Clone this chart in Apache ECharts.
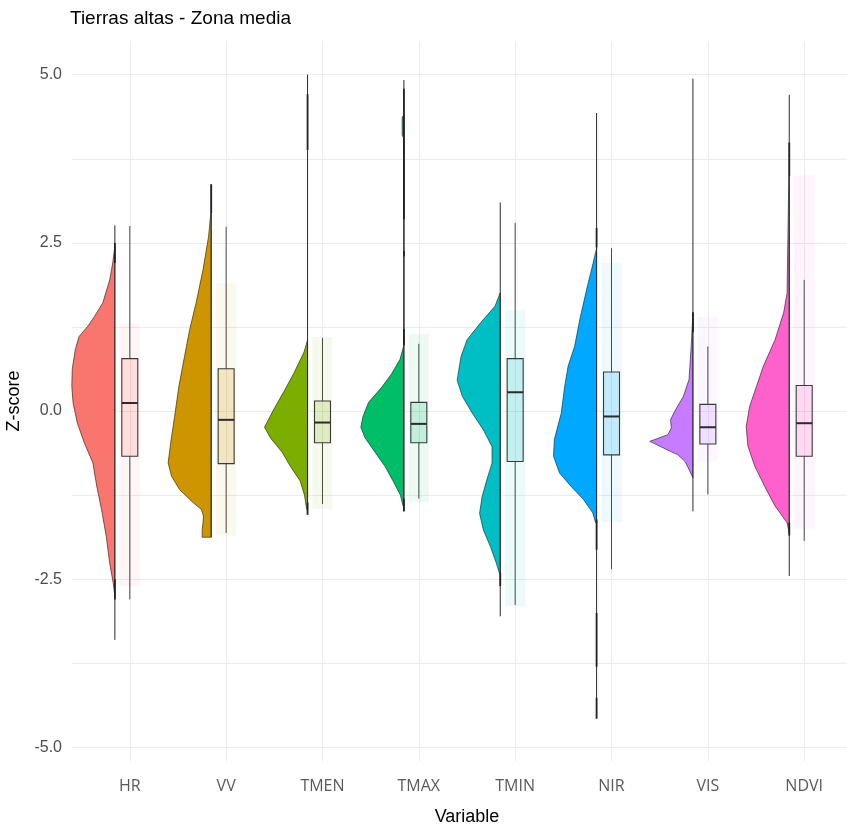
<!DOCTYPE html>
<html>
<head>
<meta charset="utf-8">
<title>Tierras altas - Zona media</title>
<script src="https://cdn.jsdelivr.net/npm/echarts@6.0.0/dist/echarts.min.js"></script>
<style>
  html, body { margin: 0; padding: 0; background: #fff; }
  #chart { width: 847px; height: 829px; }
</style>
</head>
<body>
<div id="chart"></div>
<script>
// categorías del eje x
var categories = ['HR', 'VV', 'TMEN', 'TMAX', 'TMIN', 'NIR', 'VIS', 'NDVI'];

// estadísticos del boxplot (z-score)
var boxLow    = [-2.80, -1.81, -1.38, -1.30, -2.88, -2.35, -1.24, -1.93];
var boxQ1     = [-0.67, -0.78, -0.47, -0.47, -0.75, -0.65, -0.49, -0.67];
var boxMedian = [ 0.12, -0.13, -0.17, -0.19,  0.28, -0.08, -0.24, -0.18];
var boxQ3     = [ 0.78,  0.63,  0.15,  0.13,  0.78,  0.58,  0.10,  0.38];
var boxHigh   = [ 2.75,  2.74,  1.09,  1.00,  2.80,  2.42,  0.96,  1.95];

// rango completo del violín (línea vertical)
var violinMin = [-3.40, -1.875, -1.54, -1.49, -3.05, -4.57, -1.49, -2.45];
var violinMax = [ 2.76,  3.37,   5.00,  4.92,  3.10,  4.43,  4.94,  4.70];

// tramos donde la línea del violín se ve más gruesa (colas con datos)
var denseTails = [
  [[2.20, 2.50], [-2.80, -2.50]],
  [[2.94, 3.37]],
  [[3.88, 4.71], [-1.54, -1.36]],
  [[2.85, 4.79], [2.30, 2.38], [0.98, 1.22], [-1.49, -1.30]],
  [[-2.60, -2.40]],
  [[2.43, 2.72], [-2.06, -1.61], [-3.80, -3.00], [-4.57, -4.26]],
  [[1.17, 1.47]],
  [[3.49, 3.99], [-1.85, -1.66]]
];

// perfil de densidad relativa [z, densidad]
var densityHR = [[2.45, 0], [2.20, .05], [1.95, .12], [1.61, .28], [1.41, .47], [1.26, .63], [1.11, .83], [0.91, .92], [0.62, .99], [0.37, 1], [0.12, .97], [-0.18, .87], [-0.47, .71], [-0.77, .51], [-1.12, .42], [-1.46, .31], [-1.86, .20], [-2.26, .12], [-2.55, .04], [-2.75, 0]];
var densityVV = [[2.94, .01], [2.60, .06], [2.10, .19], [1.61, .35], [1.21, .50], [0.81, .62], [0.37, .75], [-0.08, .85], [-0.47, .94], [-0.77, 1], [-0.97, .92], [-1.17, .73], [-1.36, .42], [-1.46, .23], [-1.56, .18], [-1.66, .19], [-1.76, .21], [-1.875, .21]];
var densityTMEN = [[1.06, 0], [0.88, .08], [0.56, .32], [0.29, .55], [0.03, .78], [-0.24, 1], [-0.40, .86], [-0.61, .59], [-0.82, .40], [-1.04, .17], [-1.25, .07], [-1.46, .02]];
var densityTMAX = [[4.40, 0], [4.37, .04], [4.10, .04], [4.05, 0], [0.98, 0], [0.77, .09], [0.56, .28], [0.35, .52], [0.13, .82], [-0.08, .95], [-0.24, 1], [-0.40, .90], [-0.61, .67], [-0.82, .44], [-1.04, .25], [-1.25, .08], [-1.41, .02]];
var densityTMIN = [[1.76, 0], [1.56, .12], [1.31, .46], [1.06, .77], [0.81, .91], [0.46, 1], [0.22, .88], [-0.03, .65], [-0.28, .39], [-0.53, .19], [-0.77, .19], [-1.02, .31], [-1.27, .42], [-1.52, .48], [-1.77, .39], [-2.01, .23], [-2.26, .09], [-2.41, .02]];
var densityNIR = [[2.42, 0], [2.20, .08], [1.81, .23], [1.36, .39], [0.96, .51], [0.67, .66], [0.37, .74], [-0.03, .82], [-0.42, .98], [-0.67, 1], [-0.92, .86], [-1.12, .59], [-1.31, .31], [-1.51, .09], [-1.66, .02]];
var densityVIS = [[1.46, 0], [0.96, .04], [0.47, .09], [0.22, .22], [0.00, .42], [-0.13, .52], [-0.25, .50], [-0.35, .58], [-0.45, 1], [-0.55, .68], [-0.65, .35], [-0.75, .18], [-0.87, .09], [-0.99, 0]];
var densityNDVI = [[3.49, .01], [1.76, .05], [1.46, .13], [1.06, .33], [0.67, .60], [0.37, .76], [0.07, .92], [-0.23, 1], [-0.52, .96], [-0.82, .80], [-1.12, .57], [-1.41, .33], [-1.66, .05], [-1.81, 0]];
var densities = [densityHR, densityVV, densityTMEN, densityTMAX, densityTMIN, densityNIR, densityVIS, densityNDVI];

// zona donde se ven los puntos (jitter) a la derecha
var pointsLow  = [-2.60, -1.85, -1.45, -1.35, -2.90, -1.65, -0.75, -1.75];
var pointsHigh = [ 1.30,  1.90,  1.10,  1.15,  1.50,  2.20,  1.40,  3.50];

// ticks
var yTickLabels = [-5, -2.5, 0, 2.5, 5];
var yGridValues = [-5, -3.75, -2.5, -1.25, 0, 1.25, 2.5, 3.75, 5];
var xPositions = [1, 2, 3, 4, 5, 6, 7, 8];

// colores ggplot (hue)
var palette = ['#F8766D', '#CD9600', '#7CAE00', '#00BE67', '#00BFC4', '#00A9FF', '#C77CFF', '#FF61CC'];

var chartDom = document.getElementById('chart');
var myChart = echarts.init(chartDom);

function renderRaincloud(params, api) {
  var i = params.dataIndex;
  var cx = api.value(0);
  var color = palette[i];
  var children = [];

  // medio violín a la izquierda
  var flat = cx - 0.155;
  var maxW = 0.447;
  var prof = densities[i];
  var pts = prof.map(function (p) { return api.coord([flat - p[1] * maxW, p[0]]); });
  pts.push(api.coord([flat, prof[prof.length - 1][0]]));
  pts.push(api.coord([flat, prof[0][0]]));
  children.push({
    type: 'polygon',
    shape: { points: pts },
    style: { fill: color, stroke: '#2b2b2b', lineWidth: 0.7 }
  });

  // línea del borde plano del violín
  var a = api.coord([flat, violinMax[i]]);
  var b = api.coord([flat, violinMin[i]]);
  children.push({
    type: 'line',
    shape: { x1: a[0], y1: a[1], x2: b[0], y2: b[1] },
    style: { stroke: '#2b2b2b', lineWidth: 1 }
  });
  denseTails[i].forEach(function (seg) {
    var s1 = api.coord([flat, seg[0]]);
    var s2 = api.coord([flat, seg[1]]);
    children.push({
      type: 'line',
      shape: { x1: s1[0], y1: s1[1], x2: s2[0], y2: s2[1] },
      style: { stroke: '#222', lineWidth: 1.8 }
    });
  });

  // puntos (muy transparentes)
  var p1 = api.coord([cx - 0.105, pointsHigh[i]]);
  var p2 = api.coord([cx + 0.105, pointsLow[i]]);
  children.push({
    type: 'rect',
    shape: { x: p1[0], y: p1[1], width: p2[0] - p1[0], height: p2[1] - p1[1] },
    style: { fill: color, opacity: 0.07 }
  });

  // bigotes
  var wTop = api.coord([cx, boxHigh[i]]);
  var q3 = api.coord([cx, boxQ3[i]]);
  var q1 = api.coord([cx, boxQ1[i]]);
  var wBot = api.coord([cx, boxLow[i]]);
  children.push({
    type: 'line',
    shape: { x1: wTop[0], y1: wTop[1], x2: q3[0], y2: q3[1] },
    style: { stroke: '#4a4a4a', lineWidth: 1 }
  });
  children.push({
    type: 'line',
    shape: { x1: q1[0], y1: q1[1], x2: wBot[0], y2: wBot[1] },
    style: { stroke: '#4a4a4a', lineWidth: 1 }
  });

  // caja
  var c1 = api.coord([cx - 0.083, boxQ3[i]]);
  var c2 = api.coord([cx + 0.083, boxQ1[i]]);
  children.push({
    type: 'rect',
    shape: { x: c1[0], y: c1[1], width: c2[0] - c1[0], height: c2[1] - c1[1] },
    style: { fill: echarts.color.modifyAlpha(color, 0.18), stroke: '#3a3a3a', lineWidth: 1.1 }
  });

  // mediana
  var m1 = api.coord([cx - 0.083, boxMedian[i]]);
  var m2 = api.coord([cx + 0.083, boxMedian[i]]);
  children.push({
    type: 'line',
    shape: { x1: m1[0], y1: m1[1], x2: m2[0], y2: m2[1] },
    style: { stroke: '#2b2b2b', lineWidth: 2 }
  });

  return { type: 'group', children: children };
}

var option = {
  backgroundColor: '#fff',
  animation: false,
  title: {
    text: 'Tierras altas - Zona media',
    left: 70,
    top: 9,
    padding: 0,
    textStyle: { color: '#000', fontSize: 19, fontWeight: 'normal', fontFamily: 'Liberation Sans' }
  },
  grid: {
    left: 72,
    top: 41,
    width: 790,
    height: 720,
    containLabel: false,
    outerBoundsMode: 'none'
  },
  xAxis: {
    type: 'value',
    min: 0.4,
    max: 8.6,
    name: 'Variable',
    nameLocation: 'middle',
    nameGap: 47,
    nameTextStyle: { color: '#000', fontSize: 18, fontFamily: 'Liberation Sans' },
    axisLine: { show: false },
    axisTick: { show: false, customValues: xPositions },
    axisLabel: {
      customValues: xPositions,
      formatter: function (v) { return categories[Math.round(v) - 1]; },
      color: '#5a5a5a',
      fontSize: 16,
      fontFamily: 'Open Sans',
      margin: 17
    },
    splitLine: { show: true, lineStyle: { color: '#ebebeb', width: 1 } }
  },
  yAxis: {
    type: 'value',
    min: -5.2,
    max: 5.5,
    name: 'Z-score',
    nameLocation: 'middle',
    nameGap: 39,
    nameTextStyle: { color: '#000', fontSize: 18, fontFamily: 'Liberation Sans' },
    axisLine: { show: false },
    axisTick: { show: false, customValues: yGridValues },
    axisLabel: {
      customValues: yTickLabels,
      formatter: function (v) { return v.toFixed(1); },
      color: '#4d4d4d',
      fontSize: 16,
      fontFamily: 'Liberation Sans',
      margin: 10
    },
    splitLine: { show: true, lineStyle: { color: '#ebebeb', width: 1 } }
  },
  series: [
    {
      type: 'custom',
      renderItem: renderRaincloud,
      encode: { x: 0, y: 1 },
      clip: false,
      data: categories.map(function (c, i) { return [xPositions[i], boxMedian[i]]; })
    }
  ]
};

myChart.setOption(option);
window.addEventListener('resize', function () {
  myChart.resize();
});
</script>
</body>
</html>
